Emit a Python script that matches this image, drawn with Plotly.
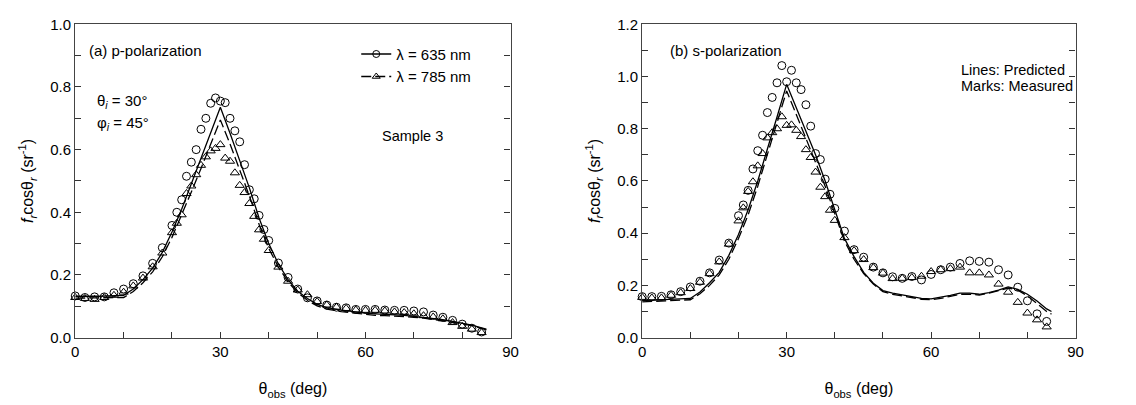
import plotly.graph_objects as go

# ---------------- data ----------------
# (a) p-polarization, measured
theta_meas = [0, 2, 4, 6, 8, 10, 12, 14, 16, 18, 20, 21, 22, 23, 24, 25, 26, 27, 28, 29, 30,
              31, 32, 33, 34, 35, 36, 37, 38, 39, 40, 42, 44, 46, 48, 50, 52, 54, 56, 58, 60,
              62, 64, 66, 68, 70, 72, 74, 76, 78, 80, 82, 84]
p_635_meas = [0.133, 0.128, 0.130, 0.130, 0.143, 0.155, 0.172, 0.197, 0.237, 0.287, 0.358, 0.400,
              0.440, 0.515, 0.560, 0.600, 0.665, 0.700, 0.748, 0.765, 0.755, 0.750, 0.700, 0.660,
              0.625, 0.552, 0.472, 0.443, 0.390, 0.345, 0.310, 0.238, 0.192, 0.155, 0.127, 0.117,
              0.104, 0.097, 0.095, 0.090, 0.090, 0.090, 0.088, 0.087, 0.087, 0.085, 0.082, 0.072,
              0.065, 0.055, 0.043, 0.030, 0.018]
p_785_meas = [0.128, 0.125, 0.122, 0.128, 0.135, 0.145, 0.165, 0.190, 0.226, 0.270, 0.335, 0.365,
              0.392, 0.460, 0.484, 0.520, 0.550, 0.577, 0.596, 0.604, 0.616, 0.573, 0.563, 0.526,
              0.486, 0.463, 0.428, 0.387, 0.344, 0.314, 0.278, 0.225, 0.180, 0.152, 0.137, 0.115,
              0.104, 0.097, 0.093, 0.088, 0.087, 0.087, 0.085, 0.082, 0.080, 0.076, 0.070, 0.066,
              0.060, 0.048, 0.036, 0.027, 0.016]

# (b) s-polarization, measured
s_635_meas = [0.157, 0.157, 0.158, 0.164, 0.176, 0.194, 0.216, 0.248, 0.297, 0.362, 0.467, 0.508,
              0.564, 0.646, 0.716, 0.775, 0.862, 0.920, 0.976, 1.042, 0.980, 1.024, 0.976, 0.950,
              0.892, 0.810, 0.705, 0.682, 0.607, 0.549, 0.495, 0.408, 0.337, 0.308, 0.270, 0.248,
              0.233, 0.227, 0.234, 0.221, 0.242, 0.260, 0.270, 0.284, 0.294, 0.292, 0.289, 0.260,
              0.240, 0.193, 0.141, 0.091, 0.062]
s_785_meas = [0.154, 0.152, 0.152, 0.162, 0.172, 0.188, 0.212, 0.245, 0.290, 0.358, 0.447, 0.497,
              0.560, 0.597, 0.658, 0.705, 0.765, 0.785, 0.800, 0.846, 0.813, 0.815, 0.794, 0.770,
              0.720, 0.690, 0.634, 0.576, 0.540, 0.488, 0.449, 0.383, 0.333, 0.299, 0.268, 0.247,
              0.226, 0.227, 0.230, 0.235, 0.253, 0.260, 0.264, 0.270, 0.248, 0.248, 0.240, 0.205,
              0.174, 0.135, 0.094, 0.068, 0.041]

# predicted curves
theta_pred = [0, 5, 10, 12, 14, 16, 18, 20, 22, 24, 26, 28, 30, 32, 34, 36, 38, 40, 42, 44, 46,
              48, 50, 52, 55, 58, 60, 62, 64, 66, 68, 70, 72, 74, 76, 78, 80, 82, 84, 85]
p_635_pred = [0.132, 0.132, 0.135, 0.155, 0.185, 0.222, 0.272, 0.337, 0.410, 0.490, 0.570, 0.650,
              0.735, 0.652, 0.567, 0.478, 0.382, 0.300, 0.235, 0.185, 0.148, 0.125, 0.106, 0.096,
              0.088, 0.081, 0.078, 0.076, 0.075, 0.073, 0.071, 0.068, 0.065, 0.061, 0.057, 0.052,
              0.046, 0.040, 0.031, 0.027]
p_785_pred = [0.126, 0.126, 0.128, 0.147, 0.175, 0.210, 0.258, 0.320, 0.390, 0.465, 0.540, 0.615,
              0.695, 0.618, 0.538, 0.452, 0.362, 0.285, 0.225, 0.178, 0.143, 0.119, 0.101, 0.091,
              0.083, 0.077, 0.073, 0.071, 0.070, 0.069, 0.067, 0.065, 0.062, 0.058, 0.054, 0.050,
              0.044, 0.038, 0.030, 0.025]
s_635_pred = [0.142, 0.146, 0.150, 0.175, 0.210, 0.250, 0.315, 0.395, 0.490, 0.600, 0.720, 0.845,
              0.970, 0.880, 0.790, 0.700, 0.600, 0.490, 0.380, 0.310, 0.250, 0.208, 0.180, 0.170,
              0.160, 0.150, 0.148, 0.154, 0.162, 0.170, 0.170, 0.166, 0.172, 0.182, 0.194, 0.185,
              0.166, 0.140, 0.110, 0.100]
s_785_pred = [0.137, 0.141, 0.145, 0.168, 0.200, 0.240, 0.300, 0.380, 0.470, 0.580, 0.700, 0.820,
              0.945, 0.855, 0.765, 0.675, 0.580, 0.475, 0.370, 0.300, 0.245, 0.205, 0.176, 0.166,
              0.156, 0.147, 0.145, 0.150, 0.158, 0.166, 0.166, 0.163, 0.170, 0.180, 0.190, 0.182,
              0.160, 0.130, 0.100, 0.090]

legend_names = ["\u03bb = 635 nm", "\u03bb = 785 nm"]

# ---------------- figure ----------------
FONT = "Liberation Sans, Arial, sans-serif"
fig = go.Figure()

line_solid = dict(color="black", width=1.3)
line_dash = dict(color="black", width=1.3, dash="10px,4px")
mk_circ = dict(symbol="circle-open", size=8, color="black", line=dict(width=1))
mk_tri = dict(symbol="triangle-up-open", size=8, color="black", line=dict(width=1))

for xa, ya, m635, m785, pr635, pr785 in [("x", "y", p_635_meas, p_785_meas, p_635_pred, p_785_pred),
                                          ("x2", "y2", s_635_meas, s_785_meas, s_635_pred, s_785_pred)]:
    fig.add_trace(go.Scatter(x=theta_pred, y=pr635, mode="lines", line=line_solid,
                             xaxis=xa, yaxis=ya, showlegend=False))
    fig.add_trace(go.Scatter(x=theta_pred, y=pr785, mode="lines", line=line_dash,
                             xaxis=xa, yaxis=ya, showlegend=False))
    fig.add_trace(go.Scatter(x=theta_meas, y=m635, mode="markers", marker=mk_circ,
                             xaxis=xa, yaxis=ya, showlegend=False, cliponaxis=False))
    fig.add_trace(go.Scatter(x=theta_meas, y=m785, mode="markers", marker=mk_tri,
                             xaxis=xa, yaxis=ya, showlegend=False, cliponaxis=False))

# legend entries
fig.add_trace(go.Scatter(x=[None], y=[None], mode="lines+markers", name=legend_names[0],
                         line=line_solid, marker=dict(symbol="circle-open", size=7, color="black")))
fig.add_trace(go.Scatter(x=[None], y=[None], mode="lines+markers", name=legend_names[1],
                         line=line_dash, marker=dict(symbol="triangle-up-open", size=7, color="black")))

axis_common = dict(
    ticks="inside", ticklen=6, tickwidth=1, tickcolor="#333",
    showline=True, linecolor="#444", linewidth=1.2,
    showgrid=False, zeroline=False,
    tickfont=dict(family=FONT, size=15, color="black"),
)
x_common = dict(axis_common, range=[0, 90], tickvals=[0, 30, 60, 90], mirror=True,
                minor=dict(ticks="inside", ticklen=6, tickcolor="#333", dtick=10, tick0=0, showgrid=False),
                title=dict(text="\u03b8<sub>obs</sub> (deg)", font=dict(family=FONT, size=16, color="black"),
                           standoff=24))
ytitle = "<i>f<sub>r</sub></i>cos\u03b8<sub><i>r</i></sub> (sr<sup>-1</sup>)"
y_common = dict(axis_common, mirror="ticks", tickformat=".1f", dtick=0.2, tick0=0,
                minor=dict(ticks="inside", ticklen=6, tickcolor="#333", dtick=0.1, tick0=0, showgrid=False),
                title=dict(text=ytitle, font=dict(family=FONT, size=16, color="black"), standoff=12))

fig.update_layout(
    width=1136, height=405,
    margin=dict(l=0, r=0, t=0, b=0),
    paper_bgcolor="white", plot_bgcolor="white",
    xaxis=dict(x_common, domain=[72 / 1136, 512 / 1136], anchor="y"),
    yaxis=dict(y_common, range=[0, 1.0], domain=[1 - 343 / 405, 1 - 16 / 405], anchor="x"),
    xaxis2=dict(x_common, domain=[645 / 1136, 1083 / 1136], anchor="y2"),
    yaxis2=dict(y_common, range=[0, 1.2], domain=[1 - 343 / 405, 1 - 16 / 405], anchor="x2"),
    legend=dict(x=356 / 1136, y=1 - 30 / 405, xanchor="left", yanchor="top",
                font=dict(family=FONT, size=15, color="black"), bgcolor="rgba(0,0,0,0)",
                itemwidth=30, tracegroupgap=0),
    showlegend=True,
)

ann_font = dict(family=FONT, size=15, color="black")
small_font = dict(family=FONT, size=14.5, color="black")
annots = [
    dict(x=2.4, y=0.915, xref="x", yref="y", text="(a) p-polarization", font=ann_font),
    dict(x=4.0, y=0.755, xref="x", yref="y", text="\u03b8<sub><i>i</i></sub> = 30\u00b0", font=ann_font),
    dict(x=4.0, y=0.685, xref="x", yref="y", text="\u03c6<sub><i>i</i></sub> = 45\u00b0", font=ann_font),
    dict(x=63, y=0.645, xref="x", yref="y", text="Sample 3", font=small_font),
    dict(x=5.3, y=1.10, xref="x2", yref="y2", text="(b) s-polarization", font=ann_font),
    dict(x=65.8, y=1.025, xref="x2", yref="y2", text="Lines: Predicted", font=small_font),
    dict(x=65.8, y=0.962, xref="x2", yref="y2", text="Marks: Measured", font=small_font),
]
for a in annots:
    fig.add_annotation(**a, showarrow=False, xanchor="left", yanchor="middle")

fig.write_html("out.html")
